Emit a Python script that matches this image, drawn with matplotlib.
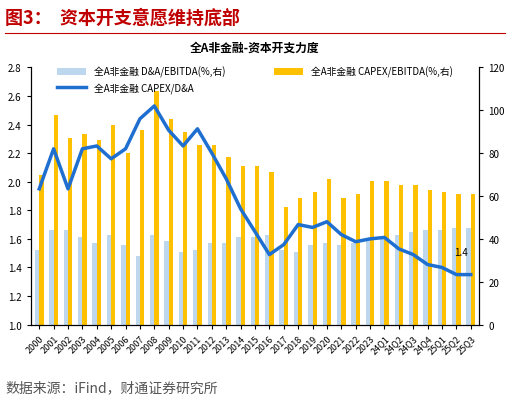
import matplotlib.pyplot as plt
import numpy as np

plt.rcParams['font.family'] = ['Noto Sans CJK SC', 'DejaVu Sans']

labels = [str(y) for y in range(2000, 2024)] + ['24Q1', '24Q2', '24Q3', '24Q4', '25Q1', '25Q2', '25Q3']
da_ebitda = [35, 44, 44, 41, 38, 42, 37, 32, 42, 39, 34, 35, 38, 38, 41, 41, 42, 35, 34, 37, 38, 37,
             38, 40, 41, 42, 43, 44, 44, 45, 45]
capex_ebitda = [70, 98, 87, 89, 86, 93, 80, 91, 109, 96, 90, 84, 84, 78, 74, 74, 71, 55, 59, 62, 68, 59,
                61, 67, 67, 65, 65, 63, 62, 61, 61]
capex_da = [1.95, 2.23, 1.95, 2.23, 2.25, 2.16, 2.23, 2.44, 2.53, 2.36, 2.25, 2.37, 2.20, 2.02, 1.81, 1.65,
            1.49, 1.56, 1.70, 1.68, 1.72, 1.63, 1.58, 1.60, 1.61, 1.53, 1.49, 1.42, 1.40, 1.35, 1.35]

fig = plt.figure(figsize=(5.10, 4.02), dpi=100)
fig.text(0.01, 0.955, '图3：  资本开支意愿维持底部', color='#c00000', fontsize=13, fontweight='bold', va='center')
fig.add_artist(plt.Line2D([0.01, 0.99], [0.915, 0.915], color='#c00000', lw=0.8))
fig.text(0.01, 0.035, '数据来源：iFind，财通证券研究所', color='#555555', fontsize=10, va='center')

ax = fig.add_axes([0.06, 0.19, 0.88, 0.64])
ax2 = ax.twinx()
x = np.arange(len(labels))
w = 0.3
b1 = ax2.bar(x - w / 2, da_ebitda, w, color='#bdd7ee', label='全A非金融 D&A/EBITDA(%,右)')
b2 = ax2.bar(x + w / 2, capex_ebitda, w, color='#ffc000', label='全A非金融 CAPEX/EBITDA(%,右)')
ax2.set_ylim(0, 120)
ax2.set_yticks(range(0, 121, 20))
ax.set_zorder(ax2.get_zorder() + 1)
ax.patch.set_visible(False)
l1, = ax.plot(x, capex_da, color='#1f6fd1', lw=2.5, label='全A非金融 CAPEX/D&A')
ax.annotate('1.4', (x[-1], capex_da[-1]), xytext=(-12, 14), textcoords='offset points', fontsize=7)
ax.set_ylim(1.0, 2.8)
ax.set_yticks(np.arange(1.0, 2.81, 0.2))
ax.set_yticklabels([f'{v:.1f}' for v in np.arange(1.0, 2.81, 0.2)])
ax.set_xlim(-0.6, len(labels) - 0.4)
ax.set_xticks(x)
ax.set_xticklabels(labels, rotation=45, ha='right', rotation_mode='anchor', fontsize=6.5)
for a in (ax, ax2):
    a.tick_params(labelsize=7, length=3)
    a.spines['top'].set_visible(False)
ax.tick_params(axis='x', labelsize=6.5)
ax.set_title('全A非金融-资本开支力度', fontsize=8.5, fontweight='bold', pad=12)
ax.legend([b1, l1, b2], [b1.get_label(), l1.get_label(), b2.get_label()], ncol=2, frameon=False,
          fontsize=7, loc='upper center', bbox_to_anchor=(0.5, 1.04), columnspacing=5, handlelength=3)
fig.savefig('out.png')
